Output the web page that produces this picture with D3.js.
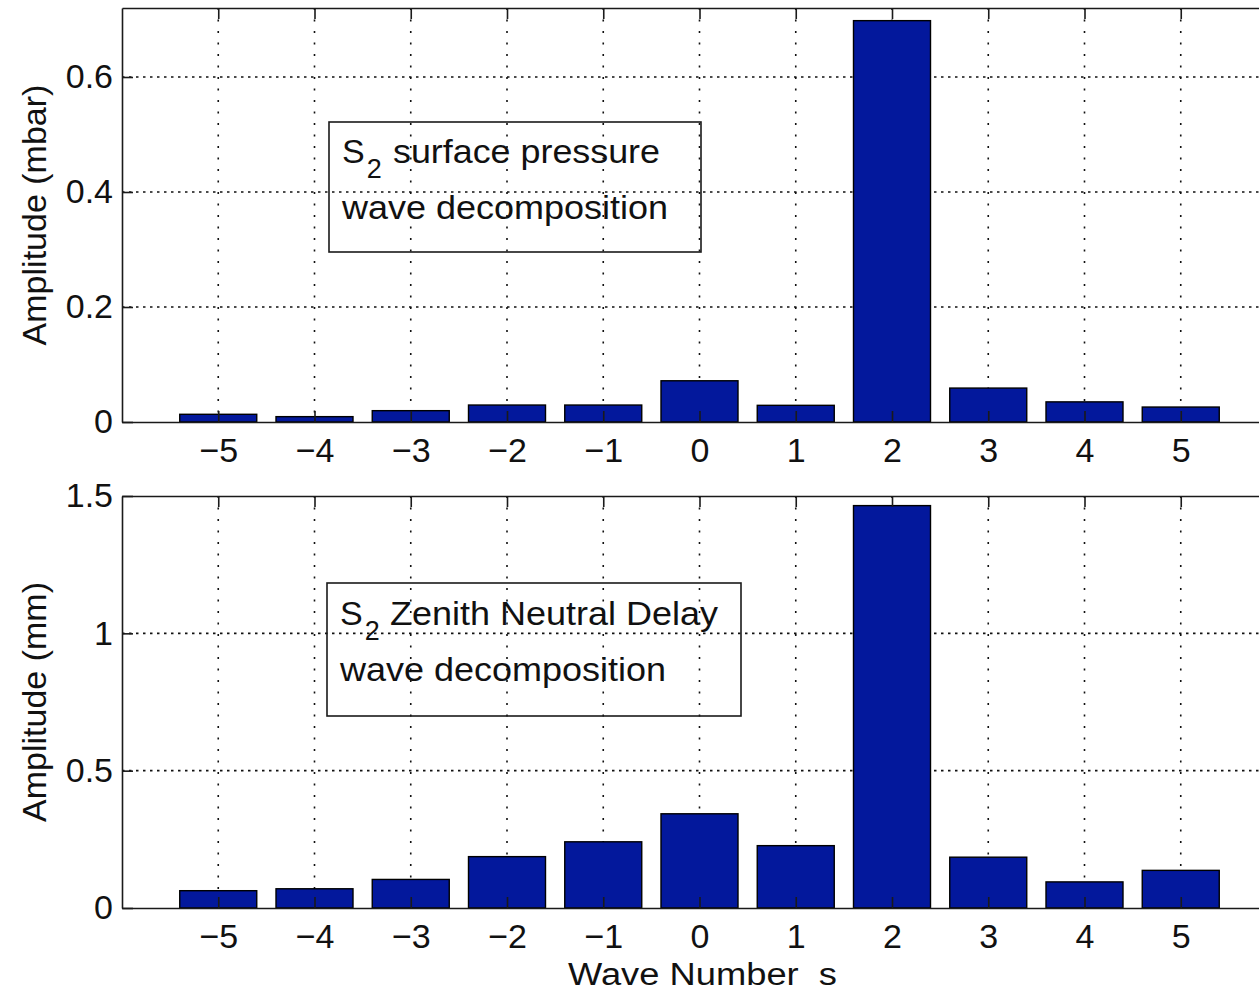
<!DOCTYPE html>
<html><head><meta charset="utf-8">
<script src="https://cdn.jsdelivr.net/npm/d3@7"></script>
<style>
html,body{margin:0;padding:0;background:#fff;}
svg{display:block;font-family:"Liberation Sans",Arial,Helvetica,sans-serif;}
text{white-space:pre;}
</style></head>
<body>
<svg id="chart" width="1259" height="992"></svg>
<script>
// ---- data ----
const waveNumbers = [-5,-4,-3,-2,-1,0,1,2,3,4,5];
const pressureAmp = [0.0134,0.0093,0.0197,0.0295,0.0295,0.0717,0.029,0.698,0.059,0.035,0.026];
const zndAmp = [0.063,0.070,0.104,0.187,0.241,0.343,0.227,1.465,0.185,0.095,0.137];
const topYTicks = [0,0.2,0.4,0.6];
const botYTicks = [0,0.5,1,1.5];
const topYMax = 0.72;
const botYMax = 1.5;
const topYLabel = "Amplitude (mbar)";
const botYLabel = "Amplitude (mm)";
const xLabel = "Wave Number  s";
const topNote = ["surface pressure","wave decomposition"];
const botNote = ["Zenith Neutral Delay","wave decomposition"];

const svg = d3.select("#chart");
const barColor = "#03189c";
const axisColor = "#1a1a1a";
const fs = 34;

const x = d3.scaleLinear().domain([-6,6]).range([122,1277]);

function panel(cfg){
  const y = d3.scaleLinear().domain([0,cfg.ymax]).range([cfg.bottom,cfg.top]);
  const g = svg.append("g");
  const x0 = x.range()[0], x1 = x.range()[1];
  // grid
  const grid = g.append("g").attr("stroke","#111").attr("stroke-width",1.6).attr("fill","none");
  grid.selectAll("line.vg").data(waveNumbers).join("line")
    .attr("x1",d=>x(d)).attr("x2",d=>x(d))
    .attr("y1",cfg.top).attr("y2",cfg.bottom)
    .attr("stroke-dasharray","2,9.5");
  grid.selectAll("line.hg").data(cfg.yticks.filter(t=>t>0 && t<cfg.ymax)).join("line")
    .attr("x1",x0).attr("x2",x1)
    .attr("y1",d=>y(d)).attr("y2",d=>y(d))
    .attr("stroke-dasharray","2.5,4.5");
  // note box (transparent)
  const nb = cfg.note;
  g.append("rect").attr("x",nb.x).attr("y",nb.y).attr("width",nb.w).attr("height",nb.h)
    .attr("fill","none").attr("stroke",axisColor).attr("stroke-width",1.6);
  const t1 = g.append("text").attr("x",nb.x+13).attr("y",nb.base1)
    .attr("font-size",fs).attr("fill","#111");
  t1.append("tspan").text("S");
  t1.append("tspan").attr("font-size",27).attr("dy",15).attr("dx",2).text("2");
  t1.append("tspan").attr("x",nb.line1x).attr("y",nb.base1)
    .attr("textLength",nb.line1w).attr("lengthAdjust","spacingAndGlyphs").text(cfg.noteLines[0]);
  g.append("text").attr("x",nb.x+13).attr("y",nb.base2)
    .attr("textLength",nb.line2w).attr("lengthAdjust","spacingAndGlyphs")
    .attr("font-size",fs).attr("fill","#111").text(cfg.noteLines[1]);
  // bars
  g.selectAll("rect.bar").data(waveNumbers.map((w,i)=>({w,v:cfg.values[i]}))).join("rect")
    .attr("class","bar")
    .attr("x",d=>x(d.w-0.4)).attr("width",x(0.4)-x(-0.4))
    .attr("y",d=>y(d.v)).attr("height",d=>y(0)-y(d.v))
    .attr("fill",barColor).attr("stroke","#000").attr("stroke-width",1.4);
  // axes
  const xa = g.append("g").attr("transform",`translate(0,${cfg.bottom})`)
    .call(d3.axisBottom(x).tickValues(waveNumbers).tickSizeInner(-11).tickSizeOuter(0).tickPadding(16).tickFormat(d3.format("d")));
  const xt = g.append("g").attr("transform",`translate(0,${cfg.top})`)
    .call(d3.axisTop(x).tickValues(waveNumbers).tickSizeInner(-11).tickSizeOuter(0).tickFormat(""));
  const ya = g.append("g").attr("transform",`translate(${x0},0)`)
    .call(d3.axisLeft(y).tickValues(cfg.yticks).tickSizeInner(-11).tickSizeOuter(0).tickPadding(9).tickFormat(d=>d===0?"0":String(d)));
  const yr = g.append("g").attr("transform",`translate(${x1},0)`)
    .call(d3.axisRight(y).tickValues(cfg.yticks).tickSizeInner(-11).tickSizeOuter(0).tickFormat(""));
  [xa,xt,ya,yr].forEach(a=>{
    a.selectAll(".domain").attr("stroke",axisColor).attr("stroke-width",1.6);
    a.selectAll(".tick line").attr("stroke",axisColor).attr("stroke-width",1.6);
    a.selectAll("text").attr("font-size",fs).attr("fill","#111")
      .attr("font-family",'"Liberation Sans",Arial,sans-serif');
  });
  // y label
  g.append("text").attr("transform",`translate(46,${(cfg.top+cfg.bottom)/2}) rotate(-90)`)
    .attr("text-anchor","middle").attr("font-size",fs).attr("fill","#111").text(cfg.ylabel);
}

panel({top:8,bottom:422,ymax:topYMax,yticks:topYTicks,values:pressureAmp,ylabel:topYLabel,
  noteLines:topNote,note:{x:329,y:122,w:372,h:130,base1:163,base2:219,line1x:393,line1w:267,line2w:326}});
panel({top:496,bottom:908,ymax:botYMax,yticks:botYTicks,values:zndAmp,ylabel:botYLabel,
  noteLines:botNote,note:{x:327,y:583,w:414,h:133,base1:625,base2:681,line1x:390,line1w:328,line2w:326}});

svg.append("text").attr("x",568).attr("y",985)
  .attr("font-size",31).attr("fill","#111")
  .attr("textLength",269).attr("lengthAdjust","spacingAndGlyphs").text(xLabel);
</script>
</body></html>
